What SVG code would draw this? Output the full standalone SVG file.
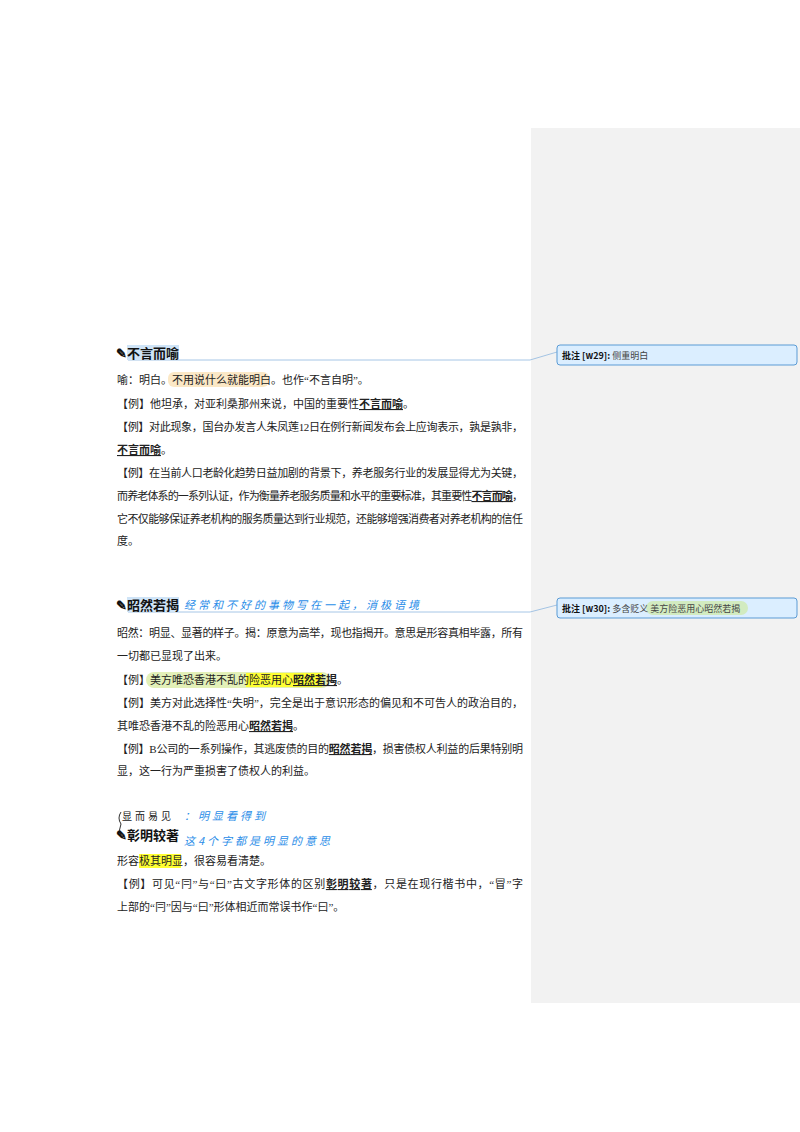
<svg xmlns="http://www.w3.org/2000/svg" width="800" height="1132" viewBox="0 0 800 1132">
<style>
text{font-family:"Liberation Serif","Noto Sans CJK SC",serif;font-size:11px;fill:#222}
.h{font-family:"Noto Sans CJK SC",sans-serif;font-size:13px;font-weight:bold;fill:#111}
.b{font-weight:bold;text-decoration:underline;font-family:"Noto Sans CJK SC",serif}
.hw{font-family:"Noto Sans CJK SC",cursive;font-size:11px;fill:#2a8de8;font-style:italic;letter-spacing:3px}
.hw2{font-family:"Noto Sans CJK SC",cursive;font-size:10px;fill:#222;letter-spacing:3px}
.cm{font-family:"Noto Sans CJK SC",sans-serif;font-size:9px;fill:#444}
.cb{fill:#dbeeff;stroke:#5b9bd5;stroke-width:1}
.ln{stroke:#8fb8e0;stroke-width:0.8;fill:none}
</style>
<rect width="800" height="1132" fill="#fff"/>
<rect x="531" y="128" width="269" height="875" fill="#f2f2f2"/>
<g id="connectors">
<path class="ln" d="M128,360 H530 L557,352"/>
<path class="ln" d="M128,612 H530 L557,605"/>
</g>
<g id="s1">
<rect x="127" y="345" width="52" height="15" fill="#cfe4f7"/>
<text x="116" y="358" class="h">✎不言而喻</text>
<rect x="168" y="372" width="101" height="15" rx="6" fill="#fbe8c6"/>
<text x="117" y="384">喻：明白。不用说什么就能明白。也作“不言自明”。</text>
<text x="117" y="408">【例】他坦承，对亚利桑那州来说，中国的重要性<tspan class="b">不言而喻</tspan>。</text>
<text x="117" y="431" textLength="406">【例】对此现象，国台办发言人朱凤莲12日在例行新闻发布会上应询表示，孰是孰非，</text>
<text x="117" y="454"><tspan class="b">不言而喻</tspan>。</text>
<text x="117" y="477" textLength="406">【例】在当前人口老龄化趋势日益加剧的背景下，养老服务行业的发展显得尤为关键，</text>
<text x="117" y="500" textLength="406">而养老体系的一系列认证，作为衡量养老服务质量和水平的重要标准，其重要性<tspan class="b">不言而喻</tspan>，</text>
<text x="117" y="523" textLength="406">它不仅能够保证养老机构的服务质量达到行业规范，还能够增强消费者对养老机构的信任</text>
<text x="117" y="545">度。</text>
</g>
<g id="s2">
<rect x="127" y="597" width="52" height="15" fill="#cfe4f7"/>
<text x="116" y="610" class="h">✎昭然若揭</text>
<text x="184" y="609" class="hw">经常和不好的事物写在一起，消极语境</text>
<text x="117" y="637" textLength="406">昭然：明显、显著的样子。揭：原意为高举，现也指揭开。意思是形容真相毕露，所有</text>
<text x="117" y="660">一切都已显现了出来。</text>
<rect x="146" y="672" width="184" height="16" rx="8" fill="#e3f0b8"/>
<rect x="246" y="673" width="76" height="14" fill="#ffff33"/>
<text x="117" y="684">【例】美方唯恐香港不乱的险恶用心<tspan class="b">昭然若揭</tspan>。</text>
<text x="117" y="707" textLength="406">【例】美方对此选择性“失明”，完全是出于意识形态的偏见和不可告人的政治目的，</text>
<text x="117" y="730">其唯恐香港不乱的险恶用心<tspan class="b">昭然若揭</tspan>。</text>
<text x="117" y="753" textLength="406">【例】B公司的一系列操作，其逃废债的目的<tspan class="b">昭然若揭</tspan>，损害债权人利益的后果特别明</text>
<text x="117" y="775">显，这一行为严重损害了债权人的利益。</text>
</g>
<g id="s3">
<text x="122" y="820" class="hw2">显而易见</text>
<text x="184" y="820" class="hw">：明显看得到</text>
<path d="M121,812 q-4,6 0,12 q-3,6 0,12" fill="none" stroke="#333" stroke-width="1"/>
<text x="116" y="840" class="h">✎彰明较著</text>
<text x="184" y="845" class="hw">这4个字都是明显的意思</text>
<rect x="139" y="854" width="42" height="14" fill="#ffff33"/>
<text x="117" y="865">形容极其明显，很容易看清楚。</text>
<text x="117" y="888" textLength="406">【例】可见“冃”与“曰”古文字形体的区别<tspan class="b">彰明较著</tspan>，只是在现行楷书中，“冒”字</text>
<text x="117" y="911">上部的“冃”因与“曰”形体相近而常误书作“曰”。</text>
</g>
<g id="c1">
<rect x="557" y="345" width="240" height="20" rx="3" class="cb"/>
<text x="562" y="359" class="cm"><tspan font-weight="bold" fill="#111">批注 [w29]:</tspan> 侧重明白</text>
</g>
<g id="c2">
<rect x="557" y="598" width="240" height="20" rx="3" class="cb"/>
<rect x="646" y="601" width="102" height="14" rx="7" fill="#d2ebc0"/>
<text x="562" y="612" class="cm"><tspan font-weight="bold" fill="#111">批注 [w30]:</tspan> 多含贬义 美方险恶用心昭然若揭</text>
</g>
</svg>
